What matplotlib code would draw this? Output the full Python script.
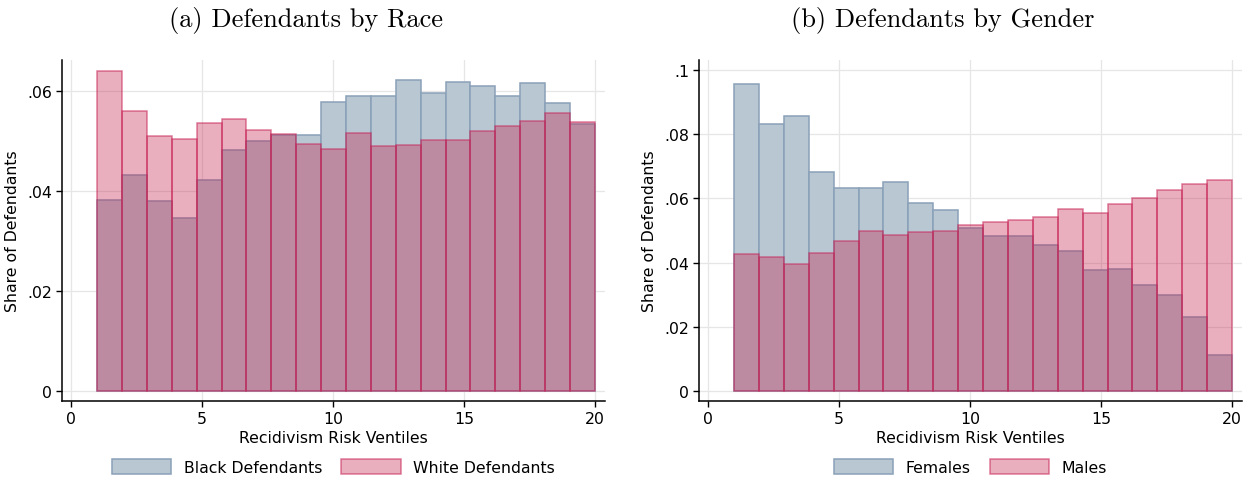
import numpy as np
import matplotlib
matplotlib.use("Agg")
import matplotlib.pyplot as plt
from matplotlib.ticker import FuncFormatter

# Data
ventile_edges = np.linspace(1, 20, 21)
black_share = [0.0383, 0.0433, 0.0380, 0.0346, 0.0422, 0.0483, 0.0501, 0.0513, 0.0513, 0.0578,
               0.0591, 0.0590, 0.0623, 0.0597, 0.0618, 0.0611, 0.0591, 0.0617, 0.0577, 0.0535]
white_share = [0.0641, 0.0561, 0.0511, 0.0505, 0.0537, 0.0545, 0.0523, 0.0515, 0.0495, 0.0484,
               0.0517, 0.0491, 0.0493, 0.0503, 0.0502, 0.0520, 0.0531, 0.0540, 0.0556, 0.0538]
female_share = [0.0957, 0.0833, 0.0858, 0.0683, 0.0633, 0.0631, 0.0652, 0.0587, 0.0563, 0.0507,
                0.0484, 0.0484, 0.0456, 0.0435, 0.0376, 0.0379, 0.0329, 0.0300, 0.0232, 0.0111]
male_share = [0.0428, 0.0418, 0.0395, 0.0431, 0.0468, 0.0499, 0.0485, 0.0494, 0.0499, 0.0518,
              0.0528, 0.0534, 0.0543, 0.0567, 0.0556, 0.0583, 0.0602, 0.0626, 0.0646, 0.0658]
titles = ["(a) Defendants by Race", "(b) Defendants by Gender"]
legend_labels = [["Black Defendants", "White Defendants"], ["Females", "Males"]]
x_ticks = [0, 5, 10, 15, 20]
y_ticks = [[0, 0.02, 0.04, 0.06], [0, 0.02, 0.04, 0.06, 0.08, 0.1]]
y_lims = [(-0.002, 0.0662), (-0.0031, 0.1031)]

BLUE_FC = "#b9c7d3"
BLUE_EC = "#8aa1b8"
PINK_FC = (0.77, 0.09, 0.27, 0.34)
PINK_EC = (0.78, 0.14, 0.34, 0.58)

fig = plt.figure(figsize=(12.54, 4.85), dpi=100)
axes = [fig.add_axes([0.0494, 0.1711, 0.4330, 0.7030]),
        fig.add_axes([0.5574, 0.1711, 0.4330, 0.7030])]

def fmt(v, pos):
    s = f"{v:g}"
    if s.startswith("0."):
        s = s[1:]
    return s

series = [(black_share, white_share), (female_share, male_share)]
widths = np.diff(ventile_edges)
for i, ax in enumerate(axes):
    a, b = series[i]
    ax.bar(ventile_edges[:-1], a, width=widths, align="edge", facecolor=BLUE_FC,
           edgecolor=BLUE_EC, linewidth=1.1, label=legend_labels[i][0], zorder=2)
    ax.bar(ventile_edges[:-1], b, width=widths, align="edge", facecolor=PINK_FC,
           edgecolor=PINK_EC, linewidth=1.1, label=legend_labels[i][1], zorder=3)
    ax.set_xlim(-0.34, 20.38)
    ax.set_ylim(*y_lims[i])
    ax.set_xticks(x_ticks)
    ax.set_yticks(y_ticks[i])
    ax.yaxis.set_major_formatter(FuncFormatter(fmt))
    ax.grid(True, color="#e6e6e6", linewidth=0.9, zorder=0)
    ax.set_axisbelow(True)
    for s in ["top", "right"]:
        ax.spines[s].set_visible(False)
    for s in ["left", "bottom"]:
        ax.spines[s].set_linewidth(1.1)
    ax.tick_params(axis="both", direction="out", length=4, width=1.0, labelsize=11.3,
                   pad=3, colors="black")
    ax.set_xlabel("Recidivism Risk Ventiles", fontsize=11.3, labelpad=3)
    ax.set_ylabel("Share of Defendants", fontsize=11.3, labelpad=5)
    ax.legend(loc="center", bbox_to_anchor=(0.5, -0.194), ncol=2, frameon=False,
              fontsize=11.3, handlelength=3.8, handleheight=1.1, columnspacing=1.2,
              handletextpad=0.8)

fig.text(0.244, 0.958, titles[0], ha="center", va="center", fontsize=19, family="cmr10")
fig.text(0.752, 0.958, titles[1], ha="center", va="center", fontsize=19, family="cmr10")

fig.savefig("out.png", dpi=100)
